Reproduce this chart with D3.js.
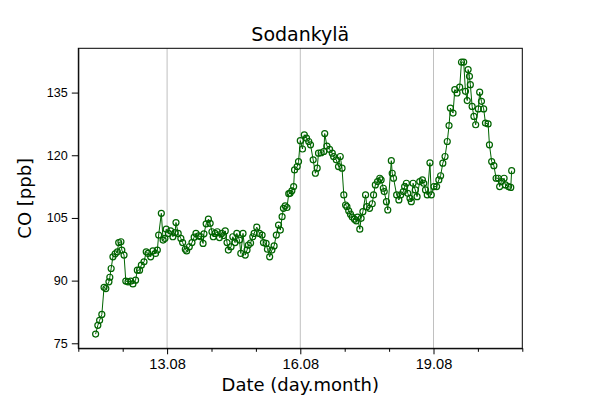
<!DOCTYPE html>
<html>
<head>
<meta charset="utf-8">
<script src="https://cdn.jsdelivr.net/npm/d3@7"></script>
<style>
  body { margin: 0; background: #fff; }
  svg { font-family: "DejaVu Sans", sans-serif; }
</style>
</head>
<body>
<svg id="chart" width="600" height="400"></svg>
<script>
// time in days of August (13 = 13.08 00:00), CO mixing ratio in ppb
var days = [
  11.39, 11.44, 11.48, 11.53, 11.58, 11.62, 11.69, 11.71, 11.74, 11.78,
  11.83, 11.88, 11.91, 11.96, 11.98, 12.03, 12.07, 12.12, 12.18, 12.23,
  12.29, 12.33, 12.38, 12.42, 12.48, 12.53, 12.57, 12.63, 12.68, 12.74,
  12.78, 12.81, 12.87, 12.91, 12.95, 12.98, 13.03, 13.08, 13.13, 13.18,
  13.20, 13.25, 13.31, 13.35, 13.41, 13.44, 13.50, 13.56, 13.61, 13.65,
  13.71, 13.76, 13.81, 13.83, 13.88, 13.93, 13.97, 14.01, 14.04, 14.08,
  14.13, 14.18, 14.23, 14.27, 14.31, 14.35, 14.38, 14.44, 14.48, 14.53,
  14.57, 14.63, 14.66, 14.71, 14.76, 14.80, 14.83, 14.88, 14.93, 14.96,
  15.02, 15.08, 15.14, 15.17, 15.23, 15.26, 15.31, 15.36, 15.41, 15.46,
  15.51, 15.55, 15.59, 15.62, 15.66, 15.70, 15.74, 15.77, 15.81, 15.85,
  15.87, 15.93, 15.96, 16.00, 16.05, 16.09, 16.14, 16.19, 16.23, 16.29,
  16.34, 16.38, 16.41, 16.47, 16.53, 16.55, 16.60, 16.66, 16.72, 16.75,
  16.81, 16.86, 16.90, 16.94, 16.98, 17.02, 17.05, 17.09, 17.13, 17.17,
  17.22, 17.26, 17.29, 17.34, 17.37, 17.41, 17.47, 17.50, 17.56, 17.62,
  17.65, 17.69, 17.74, 17.79, 17.82, 17.87, 17.89, 17.94, 17.97, 18.05,
  18.07, 18.10, 18.17, 18.22, 18.26, 18.32, 18.35, 18.39, 18.42, 18.47,
  18.50, 18.54, 18.59, 18.63, 18.69, 18.75, 18.78, 18.82, 18.86, 18.92,
  18.95, 19.01, 19.07, 19.12, 19.16, 19.21, 19.26, 19.31, 19.35, 19.38,
  19.44, 19.48, 19.53, 19.59, 19.63, 19.68, 19.72, 19.76, 19.78, 19.81,
  19.83, 19.87, 19.91, 19.95, 20.01, 20.04, 20.08, 20.13, 20.17, 20.23,
  20.26, 20.31, 20.36, 20.41, 20.46, 20.49, 20.53, 20.59, 20.62, 20.69,
  20.74, 20.76
];
var co = [
  77.2, 79.3, 80.5, 81.9, 88.4, 88.1, 89.7, 90.8, 92.9, 95.7,
  96.4, 96.9, 99.1, 99.3, 97.3, 96.1, 89.9, 89.7, 89.9, 89.2,
  90.1, 92.5, 92.5, 93.7, 94.5, 96.9, 96.5, 95.7, 97.1, 96.5,
  97.3, 100.9, 106.1, 99.7, 100.1, 102.3, 101.3, 101.9, 100.5, 101.5,
  103.9, 101.3, 100.1, 99.1, 97.5, 97.1, 98.1, 99.1, 100.4, 101.3,
  100.7, 100.5, 98.9, 101.2, 103.6, 104.7, 103.7, 101.7, 100.5, 101.3,
  101.7, 100.3, 101.3, 100.8, 101.9, 99.1, 97.3, 98.1, 100.5, 99.1,
  101.3, 99.7, 96.5, 101.3, 96.1, 97.3, 98.5, 99.0, 100.5, 101.3,
  102.8, 101.3, 100.9, 99.1, 98.9, 97.5, 95.7, 97.3, 98.3, 100.9,
  103.3, 102.1, 105.3, 107.3, 107.9, 107.5, 110.8, 110.9, 111.5, 112.5,
  116.5, 117.3, 118.5, 123.5, 121.5, 124.9, 124.1, 123.3, 122.5, 118.9,
  115.7, 116.9, 120.5, 120.6, 120.9, 125.2, 122.2, 121.4, 120.5, 119.7,
  118.9, 117.3, 119.7, 116.9, 110.5, 108.1, 107.7, 106.7, 105.9, 105.2,
  104.7, 104.3, 105.2, 102.3, 104.9, 106.5, 110.5, 107.7, 107.3, 108.4,
  110.5, 112.9, 113.7, 114.5, 114.1, 112.1, 111.3, 108.9, 106.9, 118.7,
  115.7, 114.5, 110.5, 109.3, 110.5, 111.3, 112.5, 113.3, 110.9, 109.7,
  108.9, 113.3, 111.7, 110.1, 113.7, 114.1, 113.3, 111.7, 110.5, 118.2,
  110.5, 112.5, 112.5, 114.1, 115.1, 118.1, 119.7, 123.3, 127.1, 131.3,
  130.1, 135.7, 134.9, 136.3, 142.3, 142.3, 135.3, 133.1, 140.5, 138.9,
  136.9, 131.7, 129.3, 127.3, 131.1, 135.1, 132.9, 131.1, 127.7, 127.5,
  122.5, 118.5, 117.5, 114.5, 114.5, 112.5, 113.7, 114.5, 112.9, 112.5,
  112.3, 116.3
];
var xMajor = [13, 16, 19];
var xMinor = [11, 12, 14, 15, 17, 18, 20, 21];
var yTicks = [75, 90, 105, 120, 135];

var margin = { left: 78.3, top: 48.3, right: 77.7, bottom: 51.7 };
var width = 600 - margin.left - margin.right;
var height = 400 - margin.top - margin.bottom;
var green = "#006400";

var svg = d3.select("#chart");
var g = svg.append("g")
  .attr("transform", "translate(" + margin.left + "," + margin.top + ")");

var x = d3.scaleLinear().domain([11, 21]).range([0, width]);
var y = d3.scaleLinear().domain([73.8, 145.6]).range([height, 0]);

// vertical grid at major ticks
g.selectAll(".grid")
  .data(xMajor)
  .enter()
  .append("line")
  .attr("x1", function(d) { return x(d); })
  .attr("x2", function(d) { return x(d); })
  .attr("y1", 0)
  .attr("y2", height)
  .attr("stroke", "#b0b0b0")
  .attr("stroke-width", 0.8);

var pts = days.map(function(d, i) { return [d, co[i]]; });

g.append("path")
  .datum(pts)
  .attr("fill", "none")
  .attr("stroke", green)
  .attr("stroke-width", 1)
  .attr("d", d3.line()
    .x(function(d) { return x(d[0]); })
    .y(function(d) { return y(d[1]); }));

g.selectAll("circle")
  .data(pts)
  .enter()
  .append("circle")
  .attr("cx", function(d) { return x(d[0]); })
  .attr("cy", function(d) { return y(d[1]); })
  .attr("r", 3)
  .attr("fill", "none")
  .attr("stroke", green)
  .attr("stroke-width", 1.2);

// axes
var xAxis = g.append("g")
  .attr("transform", "translate(0," + height + ")")
  .call(d3.axisBottom(x)
    .tickValues(xMajor)
    .tickSize(6)
    .tickSizeOuter(0)
    .tickPadding(4)
    .tickFormat(function(d) { return d3.format("02d")(d) + ".08"; }));
xAxis.selectAll("text").attr("font-size", 14.6).attr("fill", "#000");

g.append("g")
  .attr("transform", "translate(0," + height + ")")
  .call(d3.axisBottom(x).tickValues(xMinor).tickSize(3.5).tickFormat(""))
  .select(".domain").remove();

var yAxis = g.append("g")
  .call(d3.axisLeft(y).tickValues(yTicks).tickSize(6.5).tickSizeOuter(0).tickPadding(4));
yAxis.selectAll("text").attr("font-size", 12.6).attr("fill", "#000");

svg.selectAll(".domain").attr("stroke", "#000");
svg.selectAll(".tick line").attr("stroke", "#000");

// frame
g.append("rect")
  .attr("width", width)
  .attr("height", height)
  .attr("fill", "none")
  .attr("stroke", "#000")
  .attr("stroke-width", 1);

svg.append("text")
  .attr("x", margin.left + width / 2)
  .attr("y", 40.7)
  .attr("text-anchor", "middle")
  .attr("font-size", 19)
  .text("Sodankylä");

svg.append("text")
  .attr("x", margin.left + width / 2)
  .attr("y", 391)
  .attr("text-anchor", "middle")
  .attr("font-size", 18)
  .text("Date (day.month)");

svg.append("text")
  .attr("transform", "translate(31," + (margin.top + height / 2) + ") rotate(-90)")
  .attr("text-anchor", "middle")
  .attr("font-size", 18)
  .text("CO [ppb]");
</script>
</body>
</html>
